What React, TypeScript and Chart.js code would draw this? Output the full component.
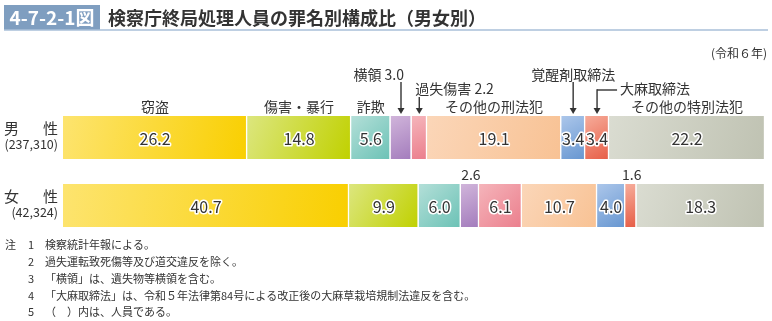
import React, { useEffect, useRef } from 'react';
import { Chart, registerables } from 'chart.js';

Chart.register(...registerables);

const titleNumber = '4-7-2-1図';
const titleText = '検察庁終局処理人員の罪名別構成比（男女別）';
const yearNote = '(令和６年)';

const crimeTypes = ['窃盗', '傷害・暴行', '詐欺', '横領', '過失傷害', 'その他の刑法犯', '覚醒剤取締法', '大麻取締法', 'その他の特別法犯'];
const rowLabels = ['男性', '女性'];
const rowCounts = ['(237,310)', '(42,324)'];
const maleValues = [26.2, 14.8, 5.6, 3.0, 2.2, 19.1, 3.4, 3.4, 22.2];
const femaleValues = [40.7, 9.9, 6.0, 2.6, 6.1, 10.7, 4.0, 1.6, 18.3];
// indices whose value is written outside (above) the bar
const maleOutside = [3, 4];
const femaleOutside = [3, 7];

const colorStart = ['#fde46f', '#dce67e', '#b3dfd8', '#d0b4da', '#f5b4ba', '#fbd6b8', '#abc6ea', '#f6ab99', '#dadcd1'];
const colorEnd = ['#f9cf00', '#c0d100', '#6cc2b6', '#a47dbd', '#eb7f8d', '#f8c294', '#6897d1', '#e75f48', '#bfc2b2'];

const notes = [
  ['注', '1', '検察統計年報による。'],
  ['', '2', '過失運転致死傷等及び道交違反を除く。'],
  ['', '3', '「横領」は、遺失物等横領を含む。'],
  ['', '4', '「大麻取締法」は、令和５年法律第84号による改正後の大麻草栽培規制法違反を含む。'],
  ['', '5', '（　）内は、人員である。'],
];

const FONT = '"Noto Sans CJK JP", "Noto Sans", sans-serif';
const TEXT = '#333333';

function arrowDown(ctx: CanvasRenderingContext2D, x: number, y1: number, y2: number) {
  ctx.save();
  ctx.strokeStyle = TEXT;
  ctx.fillStyle = TEXT;
  ctx.lineWidth = 1.4;
  ctx.beginPath();
  ctx.moveTo(x, y1);
  ctx.lineTo(x, y2 - 5);
  ctx.stroke();
  ctx.beginPath();
  ctx.moveTo(x - 3.5, y2 - 6);
  ctx.lineTo(x + 3.5, y2 - 6);
  ctx.lineTo(x, y2);
  ctx.closePath();
  ctx.fill();
  ctx.restore();
}

const overlayPlugin = {
  id: 'overlay',
  afterDraw(chart: any) {
    const ctx: CanvasRenderingContext2D = chart.ctx;
    ctx.save();
    // Title band
    ctx.fillStyle = '#7f9ec0';
    ctx.fillRect(4, 5, 96, 25);
    ctx.strokeStyle = '#a9bfd8';
    ctx.lineWidth = 1.5;
    ctx.beginPath();
    ctx.moveTo(4, 30);
    ctx.lineTo(768, 30);
    ctx.stroke();
    ctx.fillStyle = '#ffffff';
    ctx.font = `bold 19px ${FONT}`;
    ctx.textAlign = 'center';
    ctx.textBaseline = 'middle';
    ctx.fillText(titleNumber, 52, 18);
    ctx.fillStyle = TEXT;
    ctx.font = `bold 18px ${FONT}`;
    ctx.textAlign = 'left';
    ctx.fillText(titleText, 108, 18);
    ctx.font = `12px ${FONT}`;
    ctx.textAlign = 'right';
    ctx.fillText(yearNote, 767, 53);

    // Row labels
    const bars0 = chart.getDatasetMeta(0).data;
    rowLabels.forEach((lab, i) => {
      const cy = bars0[i].y;
      ctx.font = `15px ${FONT}`;
      ctx.textAlign = 'left';
      ctx.fillText(lab.charAt(0), 4, cy - 9);
      ctx.textAlign = 'right';
      ctx.fillText(lab.charAt(1), 58, cy - 9);
      ctx.font = `12.5px ${FONT}`;
      ctx.fillText(rowCounts[i], 58, cy + 7);
    });

    // Values inside bars and labels above
    const outside = [maleOutside, femaleOutside];
    const values = [maleValues, femaleValues];
    crimeTypes.forEach((_, d) => {
      const meta = chart.getDatasetMeta(d);
      meta.data.forEach((el: any, r: number) => {
        const { x, base, y, height } = el.getProps(['x', 'base', 'y', 'height'], true);
        const cx = (x + base) / 2;
        const v = values[r][d].toFixed(1);
        if (!outside[r].includes(d)) {
          ctx.font = `16px ${FONT}`;
          ctx.textAlign = 'center';
          ctx.textBaseline = 'middle';
          ctx.lineJoin = 'round';
          ctx.lineWidth = 3;
          ctx.strokeStyle = '#ffffff';
          ctx.strokeText(v, cx, y + 1);
          ctx.fillStyle = TEXT;
          ctx.fillText(v, cx, y + 1);
        } else if (r === 1) {
          ctx.font = `14px ${FONT}`;
          ctx.textAlign = 'center';
          ctx.fillStyle = TEXT;
          ctx.fillText(v, cx + 1, y - height / 2 - 9);
        }
      });
    });

    // Category labels above the male bar
    const male = crimeTypes.map((_, d) => chart.getDatasetMeta(d).data[0].getProps(['x', 'base', 'y', 'height'], true));
    const top = male[0].y - male[0].height / 2;
    ctx.fillStyle = TEXT;
    ctx.textBaseline = 'middle';
    ctx.font = `14px ${FONT}`;
    crimeTypes.forEach((name, d) => {
      const b = male[d];
      const cx = (b.x + b.base) / 2;
      if (d === 3) {
        ctx.textAlign = 'right';
        ctx.fillText(`${name} ${maleValues[d].toFixed(1)}`, cx + 3, top - 41);
        arrowDown(ctx, cx, top - 34, top - 2);
      } else if (d === 4) {
        ctx.textAlign = 'left';
        ctx.fillText(`${name} ${maleValues[d].toFixed(1)}`, cx - 4, top - 27);
        arrowDown(ctx, cx, top - 19, top - 2);
      } else if (d === 6) {
        ctx.textAlign = 'center';
        ctx.fillText(name, cx, top - 41);
        arrowDown(ctx, cx, top - 34, top - 2);
      } else if (d === 7) {
        ctx.textAlign = 'left';
        ctx.fillText(name, cx + 23, top - 27);
        ctx.save();
        ctx.strokeStyle = TEXT;
        ctx.lineWidth = 1.4;
        ctx.beginPath();
        ctx.moveTo(cx + 20, top - 26);
        ctx.lineTo(cx, top - 26);
        ctx.stroke();
        ctx.restore();
        arrowDown(ctx, cx, top - 26.7, top - 2);
      } else {
        ctx.textAlign = 'center';
        ctx.fillText(name, cx, top - 9);
      }
    });

    // Notes
    ctx.font = `11px ${FONT}`;
    ctx.textAlign = 'left';
    ctx.fillStyle = TEXT;
    notes.forEach((n, i) => {
      const yy = 245 + i * 16.8;
      ctx.fillText(n[0], 5, yy);
      ctx.fillText(n[1], 28, yy);
      ctx.fillText(n[2], 45, yy);
    });
    ctx.restore();
  },
};

function gradientFor(c: any, d: number) {
  const chart = c.chart;
  const xs = chart.scales?.x;
  const ys = chart.scales?.y;
  if (!xs || !ys || c.dataIndex === undefined) return colorEnd[d];
  const r = c.dataIndex;
  const vals = r === 0 ? maleValues : femaleValues;
  let start = 0;
  for (let k = 0; k < d; k++) start += vals[k];
  const x0 = xs.getPixelForValue(start);
  const x1 = xs.getPixelForValue(start + vals[d]);
  const yc = ys.getPixelForValue(r);
  if (![x0, x1, yc].every((n) => Number.isFinite(n)) || x1 - x0 < 0.5) return colorEnd[d];
  const g = chart.ctx.createLinearGradient(x0, yc - 21, x1, yc + 21);
  g.addColorStop(0, colorStart[d]);
  g.addColorStop(1, colorEnd[d]);
  return g;
}

export default function App() {
  const ref = useRef<HTMLCanvasElement>(null);
  useEffect(() => {
    document.body.style.margin = '0';
    const canvas = ref.current!;
    const chart = new Chart(canvas, {
      type: 'bar',
      data: {
        labels: rowLabels,
        datasets: crimeTypes.map((name, d) => ({
          label: name,
          data: [maleValues[d], femaleValues[d]],
          backgroundColor: (c: any) => gradientFor(c, d),
          borderColor: '#ffffff',
          borderWidth: { top: 0, bottom: 0, left: 0, right: 1.5 },
          borderSkipped: false,
          barThickness: 43,
        })),
      },
      options: {
        indexAxis: 'y',
        responsive: false,
        animation: false,
        layout: { padding: { left: 63, right: 7, top: 103.5, bottom: 81.5 } },
        plugins: { legend: { display: false }, title: { display: false }, tooltip: { enabled: false } },
        scales: {
          x: { stacked: true, min: 0, max: 99.9, display: false },
          y: { stacked: true, display: false },
        },
      },
      plugins: [overlayPlugin],
    });
    return () => chart.destroy();
  }, []);
  return <canvas ref={ref} width={772} height={321} style={{ display: 'block' }} />;
}
